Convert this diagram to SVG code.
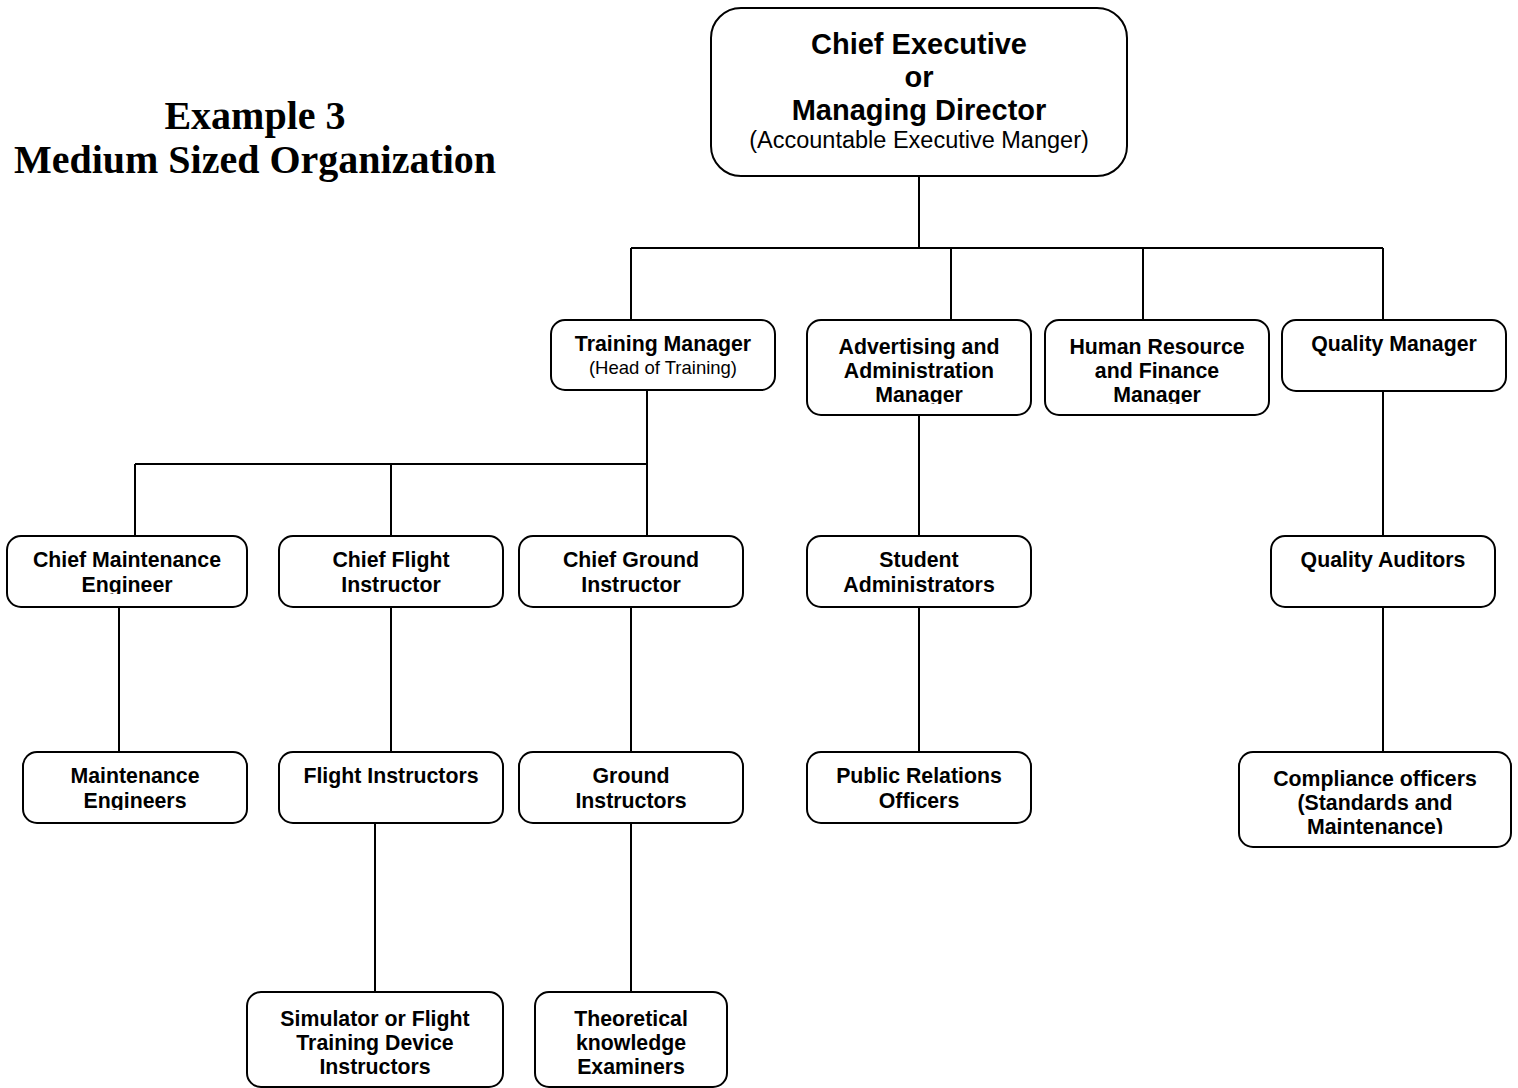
<svg xmlns="http://www.w3.org/2000/svg" width="1518" height="1088" viewBox="0 0 1518 1088">
<style>
.box{fill:#fff;stroke:#000;stroke-width:2}
.t{font-family:"Liberation Sans",Arial,sans-serif;font-weight:bold;font-size:21.3px;text-anchor:middle;fill:#000}
.s{font-family:"Liberation Sans",Arial,sans-serif;font-size:18.5px;text-anchor:middle;fill:#000}
.big{font-family:"Liberation Sans",Arial,sans-serif;font-weight:bold;font-size:29px;text-anchor:middle;fill:#000}
.mid{font-family:"Liberation Sans",Arial,sans-serif;font-size:23.5px;text-anchor:middle;fill:#000}
.title{font-family:"Liberation Serif","Times New Roman",serif;font-weight:bold;font-size:40px;text-anchor:middle;fill:#000}
.c{fill:none;stroke:#000;stroke-width:2}
</style>
<defs>
<clipPath id="cAdv"><rect x="807" y="320" width="224" height="84"/></clipPath>
<clipPath id="cHr"><rect x="1045" y="320" width="224" height="84"/></clipPath>
<clipPath id="cCme"><rect x="7" y="536" width="240" height="58"/></clipPath>
<clipPath id="cMe"><rect x="23" y="752" width="224" height="58"/></clipPath>
<clipPath id="cCo"><rect x="1239" y="752" width="272" height="82"/></clipPath>
<clipPath id="cSim"><rect x="247" y="992" width="256" height="84"/></clipPath>
<clipPath id="cTh"><rect x="535" y="992" width="192" height="84"/></clipPath>
</defs>
<rect width="1518" height="1088" fill="#fff"/>
<g id="title">
<text class="title" x="255" y="129">Example 3</text>
<text class="title" x="255" y="173">Medium Sized Organization</text>
</g>
<g id="connectors">
<path class="c" d="M919 176V248M631 248H1383M631 248V320M951 248V320M1143 248V320M1383 248V320"/>
<path class="c" d="M647 390V464M135 464H647M135 464V536M391 464V536M647 464V536"/>
<path class="c" d="M919 415V536M1383 391V536"/>
<path class="c" d="M119 607V752M391 607V752M631 607V752M919 607V752M1383 607V752"/>
<path class="c" d="M375 823V992M631 823V992"/>
</g>
<g id="ceo">
<rect class="box" x="711" y="8" width="416" height="168" rx="30"/>
<text class="big" x="919" y="54">Chief Executive</text>
<text class="big" x="919" y="87">or</text>
<text class="big" x="919" y="120">Managing Director</text>
<text class="mid" x="919" y="148">(Accountable Executive Manger)</text>
</g>
<g id="training-manager">
<rect class="box" x="551" y="320" width="224" height="70" rx="14"/>
<text class="t" x="663" y="351">Training Manager</text>
<text class="s" x="663" y="374">(Head of Training)</text>
</g>
<g id="advertising-manager">
<rect class="box" x="807" y="320" width="224" height="95" rx="14"/>
<g clip-path="url(#cAdv)">
<text class="t" x="919" y="354">Advertising and</text>
<text class="t" x="919" y="378">Administration</text>
<text class="t" x="919" y="402">Manager</text>
</g>
</g>
<g id="hr-finance-manager">
<rect class="box" x="1045" y="320" width="224" height="95" rx="14"/>
<g clip-path="url(#cHr)">
<text class="t" x="1157" y="354">Human Resource</text>
<text class="t" x="1157" y="378">and Finance</text>
<text class="t" x="1157" y="402">Manager</text>
</g>
</g>
<g id="quality-manager">
<rect class="box" x="1282" y="320" width="224" height="71" rx="14"/>
<text class="t" x="1394" y="351">Quality Manager</text>
</g>
<g id="chief-maintenance-engineer">
<rect class="box" x="7" y="536" width="240" height="71" rx="14"/>
<g clip-path="url(#cCme)">
<text class="t" x="127" y="567">Chief Maintenance</text>
<text class="t" x="127" y="592">Engineer</text>
</g>
</g>
<g id="chief-flight-instructor">
<rect class="box" x="279" y="536" width="224" height="71" rx="14"/>
<text class="t" x="391" y="567">Chief Flight</text>
<text class="t" x="391" y="592">Instructor</text>
</g>
<g id="chief-ground-instructor">
<rect class="box" x="519" y="536" width="224" height="71" rx="14"/>
<text class="t" x="631" y="567">Chief Ground</text>
<text class="t" x="631" y="592">Instructor</text>
</g>
<g id="student-administrators">
<rect class="box" x="807" y="536" width="224" height="71" rx="14"/>
<text class="t" x="919" y="567">Student</text>
<text class="t" x="919" y="592">Administrators</text>
</g>
<g id="quality-auditors">
<rect class="box" x="1271" y="536" width="224" height="71" rx="14"/>
<text class="t" x="1383" y="567">Quality Auditors</text>
</g>
<g id="maintenance-engineers">
<rect class="box" x="23" y="752" width="224" height="71" rx="14"/>
<g clip-path="url(#cMe)">
<text class="t" x="135" y="783">Maintenance</text>
<text class="t" x="135" y="808">Engineers</text>
</g>
</g>
<g id="flight-instructors">
<rect class="box" x="279" y="752" width="224" height="71" rx="14"/>
<text class="t" x="391" y="783">Flight Instructors</text>
</g>
<g id="ground-instructors">
<rect class="box" x="519" y="752" width="224" height="71" rx="14"/>
<text class="t" x="631" y="783">Ground</text>
<text class="t" x="631" y="808">Instructors</text>
</g>
<g id="public-relations-officers">
<rect class="box" x="807" y="752" width="224" height="71" rx="14"/>
<text class="t" x="919" y="783">Public Relations</text>
<text class="t" x="919" y="808">Officers</text>
</g>
<g id="compliance-officers">
<rect class="box" x="1239" y="752" width="272" height="95" rx="14"/>
<g clip-path="url(#cCo)">
<text class="t" x="1375" y="786">Compliance officers</text>
<text class="t" x="1375" y="810">(Standards and</text>
<text class="t" x="1375" y="834">Maintenance)</text>
</g>
</g>
<g id="simulator-instructors">
<rect class="box" x="247" y="992" width="256" height="95" rx="14"/>
<g clip-path="url(#cSim)">
<text class="t" x="375" y="1026">Simulator or Flight</text>
<text class="t" x="375" y="1050">Training Device</text>
<text class="t" x="375" y="1074">Instructors</text>
</g>
</g>
<g id="theoretical-examiners">
<rect class="box" x="535" y="992" width="192" height="95" rx="14"/>
<g clip-path="url(#cTh)">
<text class="t" x="631" y="1026">Theoretical</text>
<text class="t" x="631" y="1050">knowledge</text>
<text class="t" x="631" y="1074">Examiners</text>
</g>
</g>
</svg>
